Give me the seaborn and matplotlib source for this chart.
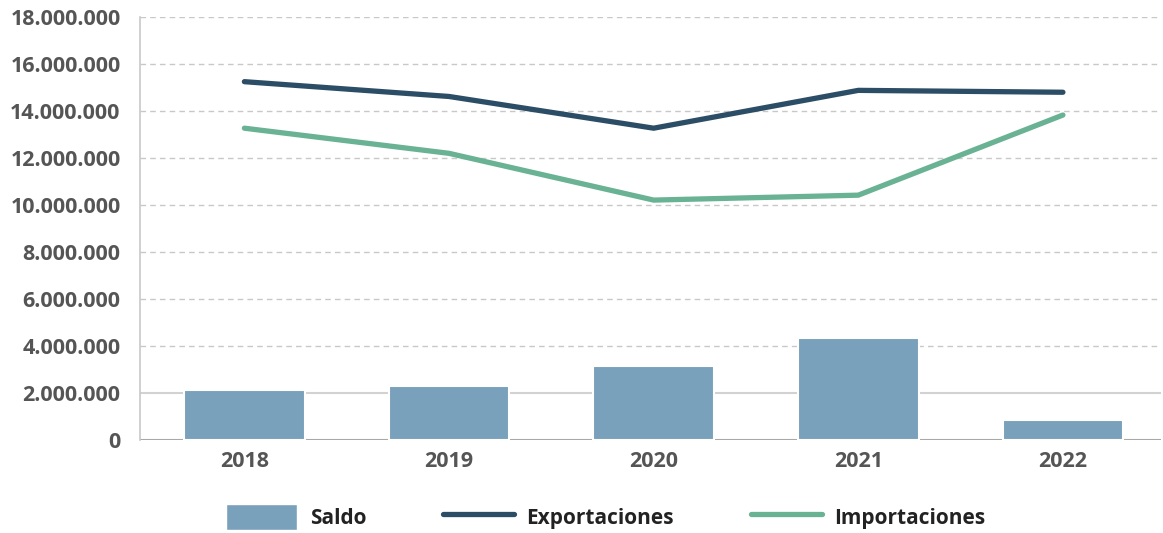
import matplotlib
matplotlib.use("Agg")
import matplotlib.pyplot as plt
import seaborn as sns
import pandas as pd
import numpy as np
from matplotlib.patches import Patch
from matplotlib.lines import Line2D

years = ["2018", "2019", "2020", "2021", "2022"]
saldo = [2130000, 2300000, 3150000, 4340000, 850000]
exportaciones = [15250000, 14620000, 13270000, 14880000, 14800000]
importaciones = [13270000, 12200000, 10210000, 10420000, 13830000]
y_ticks = [0, 2000000, 4000000, 6000000, 8000000, 10000000, 12000000, 14000000, 16000000, 18000000]

c_bar = "#7aa1bb"
c_exp = "#2c4d66"
c_imp = "#69b293"
c_tick = "#555555"

sns.set_theme(style="white")
plt.rcParams["font.family"] = ["Open Sans", "DejaVu Sans"]

df = pd.DataFrame({"year": years, "Saldo": saldo,
                   "Exportaciones": exportaciones, "Importaciones": importaciones})

fig = plt.figure(figsize=(11.63, 5.33), dpi=100)
ax = fig.add_axes([0.1204, 0.1745, 0.878, 0.7935])

sns.barplot(data=df, x="year", y="Saldo", color=c_bar, width=0.59,
            edgecolor="white", linewidth=1.5, saturation=1, ax=ax, zorder=3)
sns.lineplot(data=df, x="year", y="Exportaciones", color=c_exp, linewidth=3.8,
             solid_capstyle="round", ax=ax, zorder=4, sort=False)
sns.lineplot(data=df, x="year", y="Importaciones", color=c_imp, linewidth=3.8,
             solid_capstyle="round", ax=ax, zorder=4, sort=False)

ax.set_xlim(-0.51, 4.48)
ax.set_ylim(0, 18000000)
ax.set_yticks(y_ticks)
ax.set_yticklabels([f"{v:,.0f}".replace(",", ".") for v in y_ticks])
for v in y_ticks[2:]:
    ax.axhline(v, color="#c8c8c8", linestyle=(0, (4, 3)), linewidth=1.0, zorder=1)
ax.axhline(2000000, color="#d2d2d2", linestyle="-", linewidth=1.5, zorder=1)
ax.axhline(0, color="#a8a8a8", linestyle="-", linewidth=1.5, zorder=2)

ax.set_xlabel("")
ax.set_ylabel("")
for s in ["top", "right", "bottom"]:
    ax.spines[s].set_visible(False)
ax.spines["left"].set_color("#c8c8c8")
ax.spines["left"].set_linewidth(1.2)
ax.tick_params(axis="both", length=0, labelsize=15.5, labelcolor=c_tick)
ax.tick_params(axis="y", pad=14)
ax.tick_params(axis="x", pad=8)
for lab in ax.get_xticklabels() + ax.get_yticklabels():
    lab.set_fontweight("bold")

handles = [Patch(facecolor=c_bar, edgecolor="white", label="Saldo"),
           Line2D([0], [0], color=c_exp, linewidth=3.8, solid_capstyle="round", label="Exportaciones"),
           Line2D([0], [0], color=c_imp, linewidth=3.8, solid_capstyle="round", label="Importaciones")]
fig.legend(handles=handles, loc="center", bbox_to_anchor=(0.521, 0.03), ncol=3,
           frameon=False, handlelength=3.4, handleheight=1.6, handletextpad=0.6,
           columnspacing=3.7, prop={"size": 15, "weight": "bold"},
           labelcolor="#222222")

fig.savefig("out.png", dpi=100)
